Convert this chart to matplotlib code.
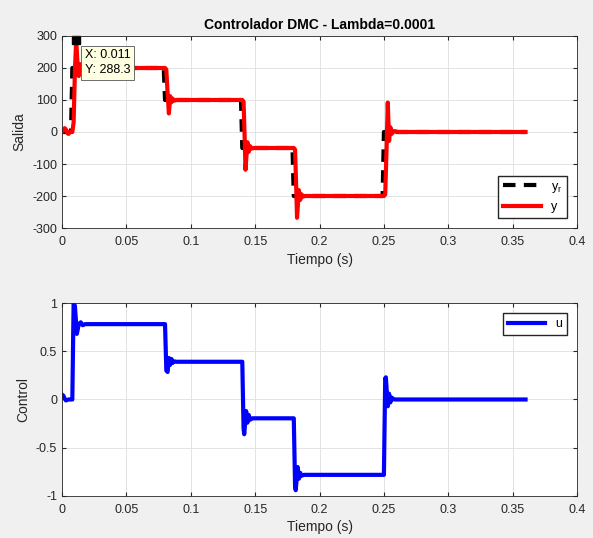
import matplotlib
matplotlib.use("Agg")
import matplotlib.pyplot as plt

plt.rcParams['font.family'] = ['Liberation Sans', 'DejaVu Sans']
plt.rcParams['axes.unicode_minus'] = False

# reference signal (step changes)
yr_t = [0, 0.007, 0.008, 0.079, 0.080, 0.139, 0.140, 0.179, 0.180, 0.249, 0.250, 0.36]
yr_v = [0, 0, 200, 200, 100, 100, -50, -50, -200, -200, 0, 0]

# plant output
y_t = [0, 0.001, 0.002, 0.003, 0.004, 0.005, 0.006, 0.008, 0.009, 0.010, 0.011, 0.012,
       0.013, 0.014, 0.015, 0.016, 0.018,
       0.080, 0.081, 0.082, 0.083, 0.084, 0.085, 0.086, 0.087, 0.089,
       0.140, 0.141, 0.142, 0.1425, 0.144, 0.145, 0.146, 0.147, 0.149,
       0.180, 0.181, 0.182, 0.1825, 0.184, 0.185, 0.186, 0.187, 0.189,
       0.250, 0.251, 0.252, 0.253, 0.254, 0.255, 0.256, 0.258, 0.261, 0.36]
y_v = [0, 5, 12, 8, -3, -6, 0, 0, 30, 190, 288.3, 215,
       175, 212, 193, 204, 200,
       200, 195, 120, 58, 112, 93, 104, 98, 100,
       100, 95, -40, -118, -32, -62, -44, -52, -50,
       -50, -55, -190, -268, -182, -212, -195, -202, -200,
       -200, -195, -60, 92, -28, 15, -6, 3, 0, 0]

# control action
u_t = [0, 0.001, 0.002, 0.003, 0.005, 0.007, 0.008, 0.009, 0.010, 0.0115, 0.013, 0.0145,
       0.016, 0.018,
       0.080, 0.081, 0.082, 0.083, 0.084, 0.085, 0.086, 0.087, 0.089,
       0.140, 0.141, 0.1415, 0.143, 0.144, 0.145, 0.146, 0.148,
       0.180, 0.181, 0.1815, 0.183, 0.184, 0.185, 0.186, 0.188,
       0.250, 0.251, 0.2515, 0.253, 0.254, 0.255, 0.256, 0.258, 0.36]
u_v = [0.05, 0.04, 0.01, -0.01, 0.0, 0.0, 0.0, 1.0, 0.97, 0.68, 0.78, 0.80,
       0.77, 0.781,
       0.781, 0.30, 0.285, 0.43, 0.36, 0.42, 0.38, 0.395, 0.391,
       0.391, -0.30, -0.36, -0.12, -0.24, -0.16, -0.21, -0.195,
       -0.195, -0.90, -0.94, -0.70, -0.82, -0.76, -0.79, -0.781,
       -0.781, 0.22, 0.23, -0.07, 0.06, -0.03, 0.02, 0.0, 0.0]

tip_x, tip_y = 0.011, 288.3

xticks = [0, 0.05, 0.1, 0.15, 0.2, 0.25, 0.3, 0.35, 0.4]
xlabels = ['0', '0.05', '0.1', '0.15', '0.2', '0.25', '0.3', '0.35', '0.4']


def style(ax):
    ax.set_facecolor('white')
    ax.grid(True, color='#e3e3e3', linewidth=0.7)
    ax.set_axisbelow(True)
    ax.tick_params(direction='in', top=True, right=True, labelsize=9,
                   length=3, color='#262626', labelcolor='#262626')
    ax.tick_params(axis='x', pad=6)
    for s in ax.spines.values():
        s.set_color('#262626')
        s.set_linewidth(0.6)
    ax.set_xlim(0, 0.4)
    ax.set_xticks(xticks)
    ax.set_xticklabels(xlabels)
    ax.set_xlabel('Tiempo (s)', fontsize=10, color='#262626', labelpad=3)


fig = plt.figure(figsize=(5.93, 5.38), dpi=100, facecolor='#f0f0f0')
ax1 = fig.add_axes([0.1046, 0.5762, 0.8685, 0.3569])
ax2 = fig.add_axes([0.1046, 0.0781, 0.8685, 0.3587])

# top: output
style(ax1)
ax1.plot(yr_t, yr_v, color='black', linestyle=(0, (3, 2)), linewidth=3, label='$\\mathregular{y_r}$')
ax1.plot(y_t, y_v, color='red', linewidth=3, label='y')
ax1.set_ylim(-300, 300)
ax1.set_yticks(range(-300, 301, 100))
ax1.set_ylabel('Salida', fontsize=10, color='#262626')
ax1.set_title('Controlador DMC - Lambda=0.0001', fontsize=10, fontweight='bold', pad=5)
ax1.legend(loc='lower right', fontsize=9, fancybox=False, edgecolor='#262626',
           handlelength=3.0, framealpha=1, borderaxespad=0.8)
ax1.plot([tip_x], [tip_y], marker='s', color='black', markersize=6, clip_on=False)
ax1.annotate('X: %.3f\nY: %.1f' % (tip_x, tip_y), xy=(tip_x, tip_y),
             xytext=(6, -7), textcoords='offset points', ha='left', va='top',
             fontsize=9, linespacing=1.3,
             bbox=dict(boxstyle='square,pad=0.3', fc='#ffffe1', ec='#555555', lw=0.6))

# bottom: control
style(ax2)
ax2.plot(u_t, u_v, color='blue', linewidth=3, label='u')
ax2.set_ylim(-1, 1)
ax2.set_yticks([-1, -0.5, 0, 0.5, 1])
ax2.set_yticklabels(['-1', '-0.5', '0', '0.5', '1'])
ax2.set_ylabel('Control', fontsize=10, color='#262626')
ax2.legend(loc='upper right', fontsize=9, fancybox=False, edgecolor='#262626',
           handlelength=3.0, framealpha=1, borderaxespad=0.8)

fig.savefig('out.png', dpi=100, facecolor=fig.get_facecolor())
